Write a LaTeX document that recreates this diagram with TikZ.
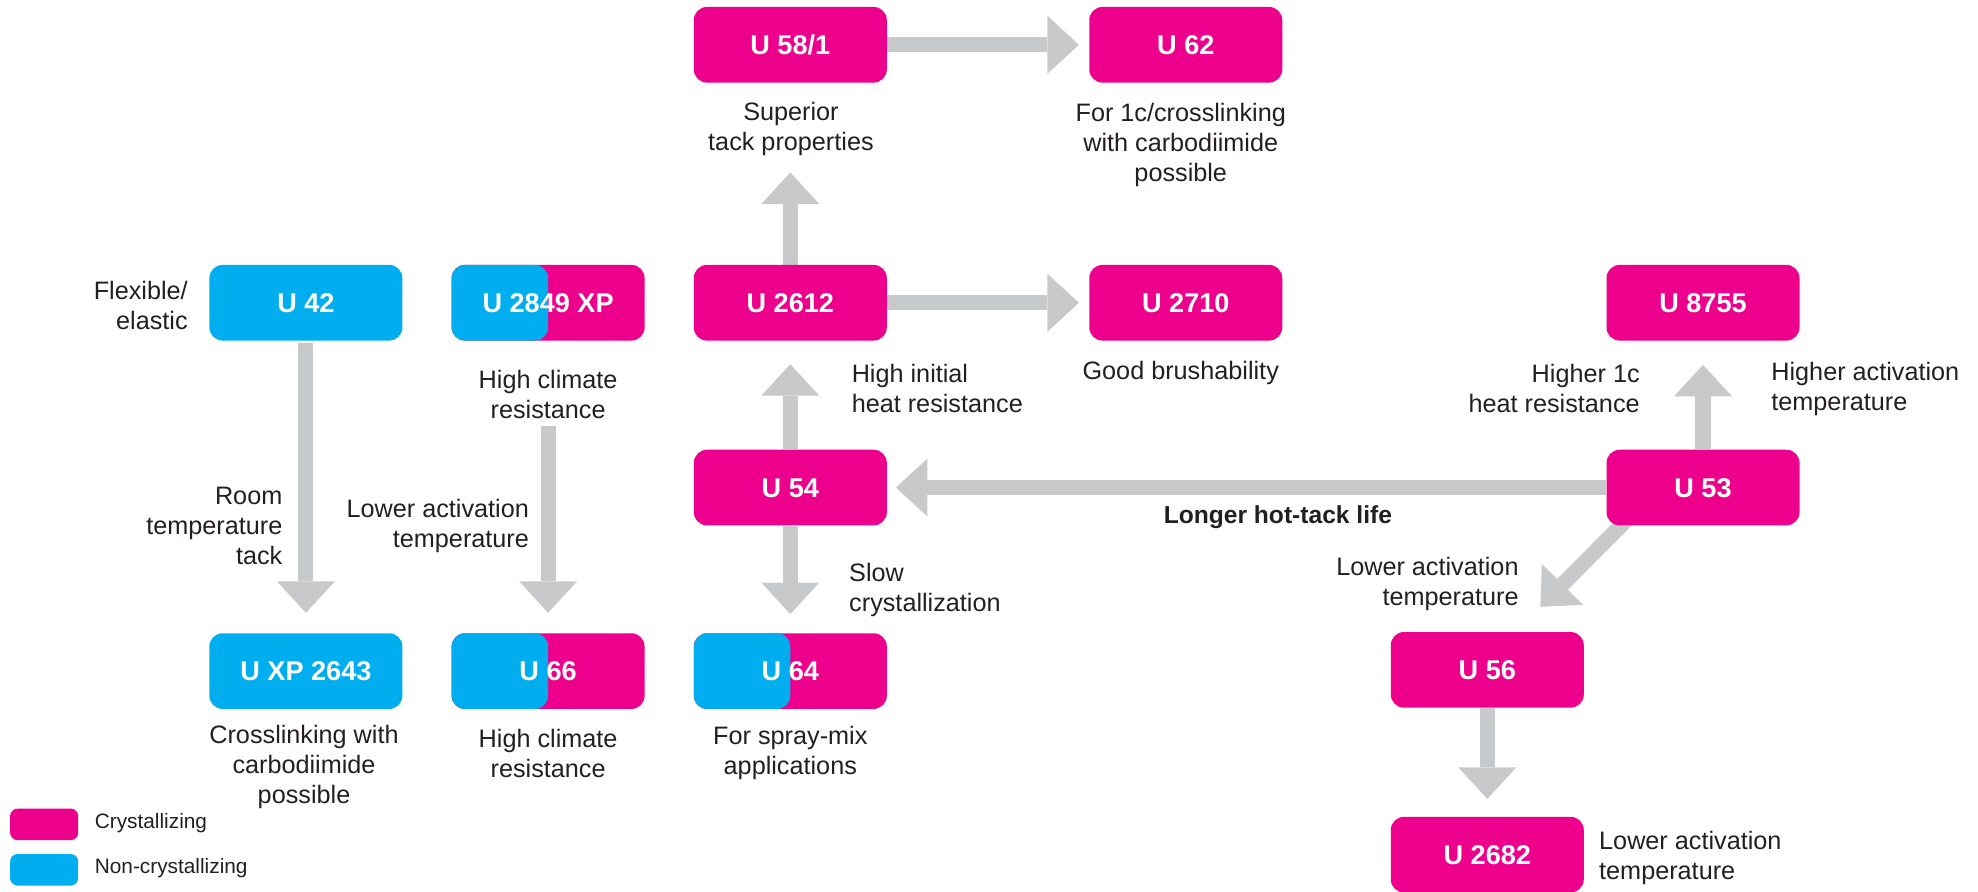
\documentclass[tikz,border=0pt]{standalone}
\usepackage{fontspec}
\setmainfont{Liberation Sans}
\usetikzlibrary{arrows.meta}
\pgfdeclarelayer{bg}
\pgfsetlayers{bg,main}
\definecolor{cpink}{HTML}{EC008C}
\definecolor{cblue}{HTML}{00AEEF}
\definecolor{cgray}{HTML}{C8C9CB}
\definecolor{ctext}{HTML}{231F20}
\begin{document}
\begin{tikzpicture}[x=1pt,y=-1pt,
  box/.style={rounded corners=10.5pt, minimum width=153pt, minimum height=60pt, inner sep=0pt,
    text=white, font=\fontsize{21.5}{24}\selectfont\bfseries, text height=15.5pt, text depth=0pt},
  pinkbox/.style={box, fill=cpink},
  bluebox/.style={box, fill=cblue},
  splitbox/.style={box, fill=cpink, path picture={\fill[cblue] (path picture bounding box.south west) rectangle (path picture bounding box.north);}},
  lbl/.style={inner sep=0pt, text=ctext, font=\fontsize{20}{23.8}\selectfont},
  boldlbl/.style={inner sep=0pt, text=ctext, font=\fontsize{19.5}{23}\selectfont\bfseries},
  leglbl/.style={inner sep=0pt, text=ctext, font=\fontsize{16.5}{20}\selectfont},
  legbox/.style={rounded corners=6pt, minimum width=54pt, minimum height=25pt, inner sep=0pt},
  conn/.style={draw=cgray, line width=12pt, -{Triangle[length=25pt,width=46pt,line width=0pt]}},
]
\useasboundingbox (0,0) rectangle (1568,707);

% boxes
\node[pinkbox] (u581) at (626.5,35.5) {U 58/1};
\node[pinkbox] (u62) at (940,35.5) {U 62};
\node[bluebox] (u42) at (242.5,240) {U 42};
\node[splitbox] (u2849) at (434.5,240) {U 2849 XP};
\node[pinkbox] (u2612) at (626.5,240) {U 2612};
\node[pinkbox] (u2710) at (940,240) {U 2710};
\node[pinkbox] (u8755) at (1350,240) {U 8755};
\node[pinkbox] (u54) at (626.5,386.5) {U 54};
\node[pinkbox] (u53) at (1350,386.5) {U 53};
\node[bluebox] (uxp) at (242.5,532) {U XP 2643};
\node[splitbox] (u66) at (434.5,532) {U 66};
\node[splitbox] (u64) at (626.5,532) {U 64};
\node[pinkbox] (u56) at (1179,531) {U 56};
\node[pinkbox] (u2682) at (1179,677.5) {U 2682};

% labels
\node[lbl, align=right, anchor=east] (lflex) at (149,242) {Flexible/\\elastic};
\node[lbl, align=right, anchor=east] (lroom) at (224,417) {Room\\temperature\\tack};
\node[lbl, align=center] (lhc1) at (434.5,313) {High climate\\resistance};
\node[lbl, align=right, anchor=east] (llow1) at (419.5,417) {Lower activation\\temperature};
\node[lbl, align=center] (lsup) at (627,102) {Superior\\tack properties};
\node[lbl, align=center] (l1c) at (936,115) {For 1c/crosslinking\\with carbodiimide\\possible};
\node[lbl, align=left, anchor=west] (lhi) at (675,308) {High initial\\heat resistance};
\node[lbl] (lgood) at (936,296) {Good brushability};
\node[lbl, align=right, anchor=east] (lh1c) at (1300,308) {Higher 1c\\heat resistance};
\node[lbl, align=left, anchor=west] (lhact) at (1404,308) {Higher activation\\temperature};
\node[boldlbl] (llong) at (1013,410) {Longer hot-tack life};
\node[lbl, align=left, anchor=west] (lslow) at (673,468) {Slow\\crystallization};
\node[lbl, align=right, anchor=east] (llow2) at (1204,462.7) {Lower activation\\temperature};
\node[lbl, align=center] (lcross) at (241,608) {Crosslinking with\\carbodiimide\\possible};
\node[lbl, align=center] (lhc2) at (434.5,597) {High climate\\resistance};
\node[lbl, align=center] (lspray) at (626.5,597) {For spray-mix\\applications};
\node[lbl, align=left, anchor=west] (llow3) at (1267.5,680) {Lower activation\\temperature};

% legend
\node[legbox, fill=cpink] (legp) at (35,653.5) {};
\node[legbox, fill=cblue] (legb) at (35,689.5) {};
\node[leglbl, anchor=west] (legpt) at (75,652.5) {Crystallizing};
\node[leglbl, anchor=west] (legbt) at (75,688.5) {Non-crystallizing};

% connectors
\coordinate (c2849) at (434.5,338);
\coordinate (dstart) at (1298,403.5);
\coordinate (dtip) at (1221,481);
\begin{pgfonlayer}{bg}
\draw[conn, shorten >=8pt] (u581) -- (u62);
\draw[conn, shorten >=8pt] (u2612) -- (u2710);
\draw[conn, shorten >=71pt] (u2612) -- (u581);
\draw[conn, shorten >=18.5pt] (u54) -- (u2612);
\draw[conn, shorten >=15pt] (u54) -- (u64);
\draw[conn, shorten >=7pt] (u53) -- (u54);
\draw[conn, shorten >=19pt] (u53) -- (u8755);
\draw[conn] (dstart) -- (dtip);
\draw[conn, shorten >=14pt] (u56) -- (u2682);
\draw[conn, shorten <=2pt, shorten >=16pt] (u42) -- (uxp);
\draw[conn, shorten >=16pt] (c2849) -- (u66);
\end{pgfonlayer}
\end{tikzpicture}
\end{document}
